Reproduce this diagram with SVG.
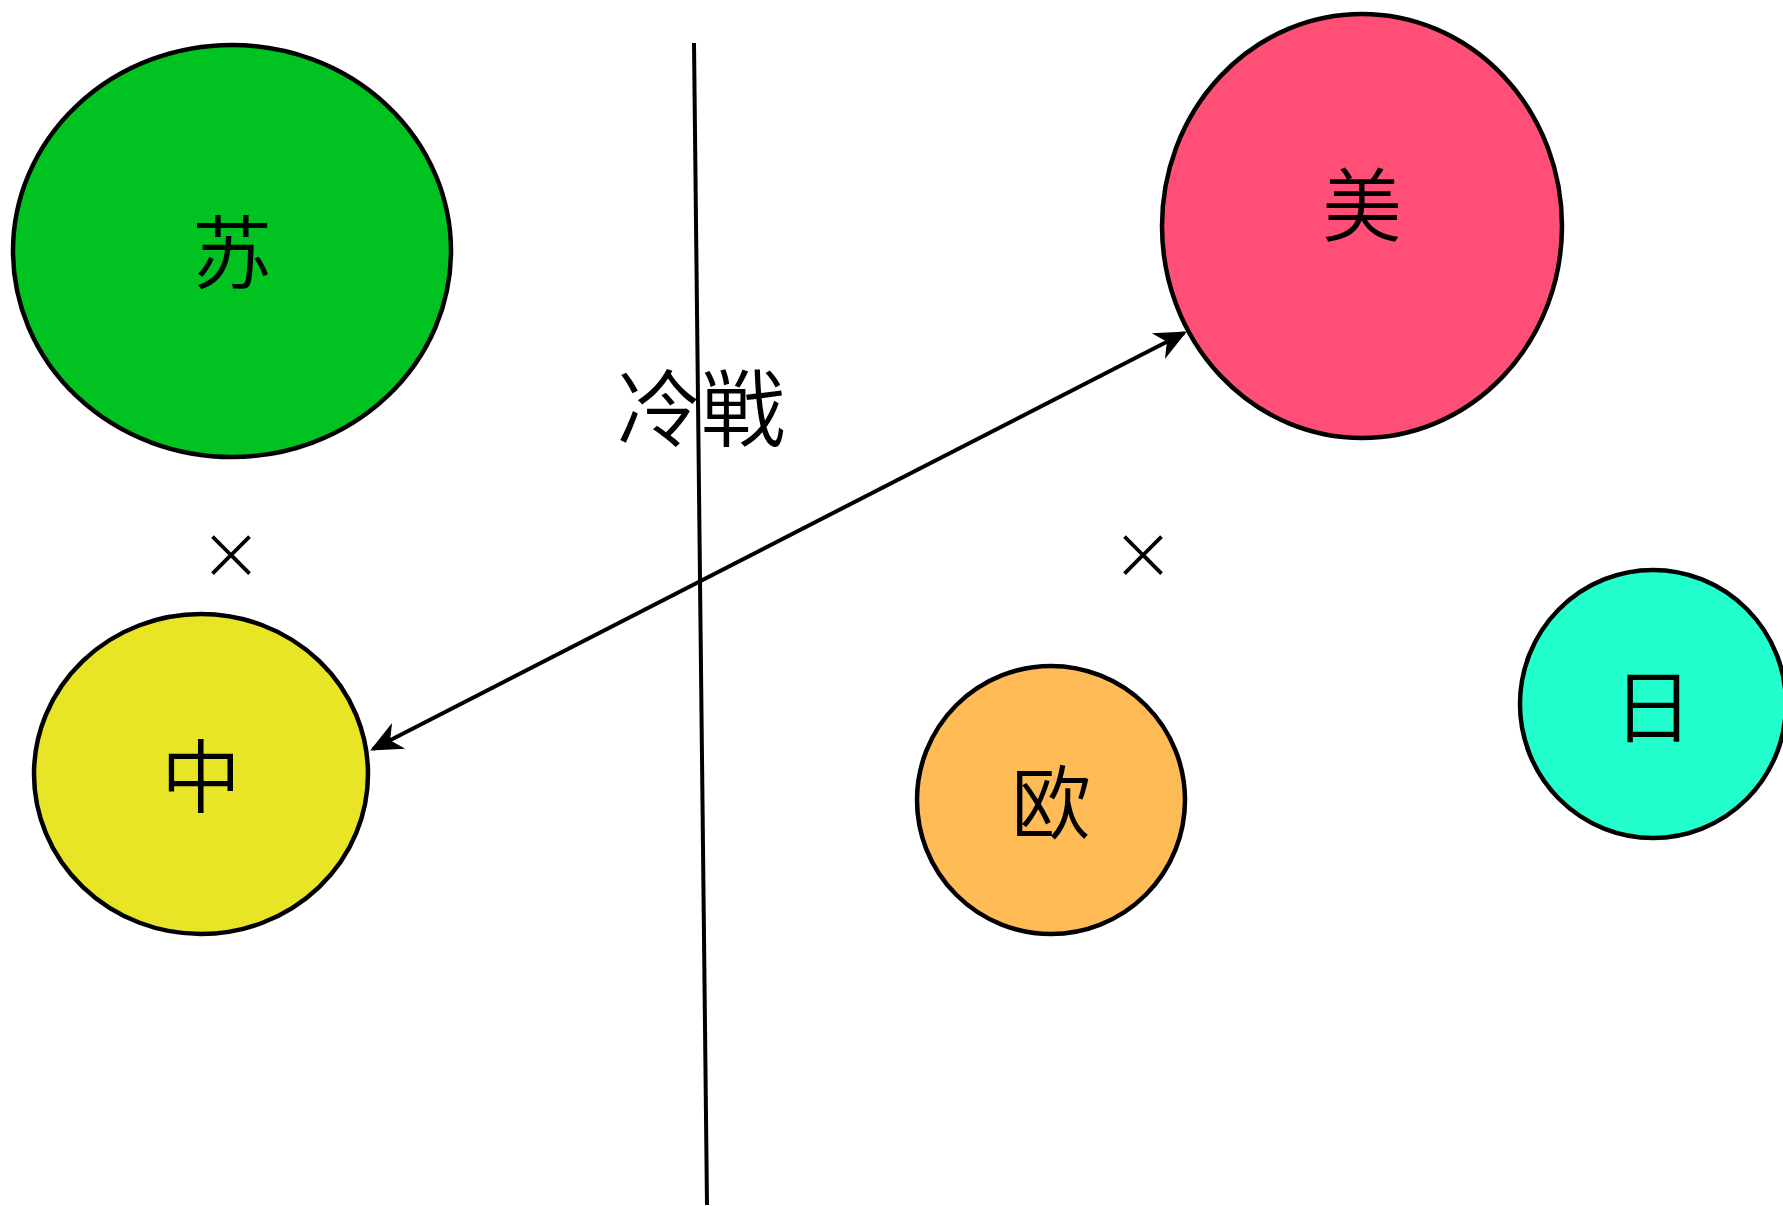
<svg xmlns="http://www.w3.org/2000/svg" width="1783" height="1206" viewBox="0 0 1783 1206">
<style>
.n{stroke:#000;stroke-width:4.5}
.t{font-family:"Noto Sans CJK SC","Noto Sans CJK JP",sans-serif;font-weight:350;font-size:80px;fill:#000;text-anchor:middle;dominant-baseline:central}
.c{stroke:#000;stroke-width:4;fill:none}
</style>
<defs>
<marker id="ar" viewBox="0 0 10 10" refX="9" refY="5" markerWidth="8" markerHeight="8" orient="auto-start-reverse" markerUnits="strokeWidth">
<path d="M0,0.5 L10,5 L0,9.5 L3,5 Z" fill="#000"/>
</marker>
</defs>
<rect width="1783" height="1206" fill="#fff"/>
<g id="su"><ellipse class="n" cx="232" cy="251" rx="219" ry="206" fill="#00c322"/><text class="t" x="232" y="247">苏</text></g>
<g id="mei"><ellipse class="n" cx="1362" cy="226" rx="200" ry="212" fill="#ff4f77"/><text class="t" x="1362" y="200">美</text></g>
<g id="zhong"><ellipse class="n" cx="201" cy="774" rx="167" ry="160" fill="#e8e527"/><text class="t" x="201" y="771">中</text></g>
<g id="ou"><ellipse class="n" cx="1051" cy="800" rx="134" ry="134" fill="#ffbb55"/><text class="t" x="1051" y="797">欧</text></g>
<g id="ri"><ellipse class="n" cx="1653" cy="704" rx="133" ry="134" fill="#22ffcc"/><text class="t" x="1653" y="701">日</text></g>
<g id="connectors">
<line class="c" x1="694" y1="43" x2="707" y2="1205"/>
<line class="c" x1="373" y1="749" x2="1184" y2="333" marker-start="url(#ar)" marker-end="url(#ar)"/>
</g>
<g id="labels">
<text class="t" x="701" y="403" style="font-size:84px">冷戦</text>
<text class="t" x="231" y="552" style="font-size:62px">×</text>
<text class="t" x="1143" y="552" style="font-size:62px">×</text>
</g>
</svg>
